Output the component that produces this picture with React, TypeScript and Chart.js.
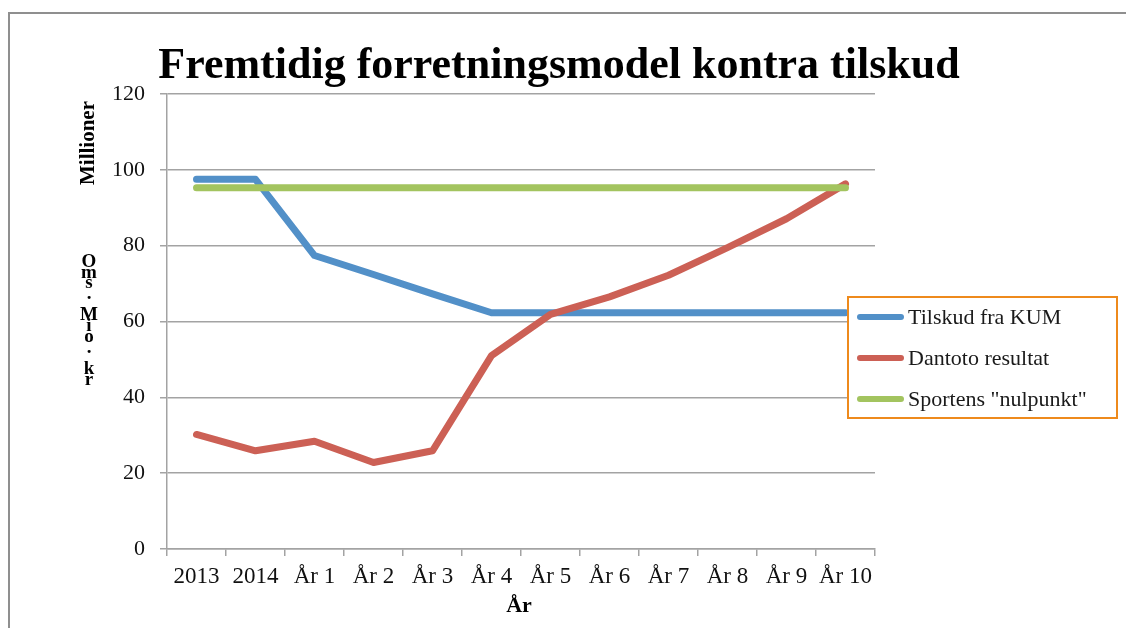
import React, { useEffect, useRef } from "react";
import { Chart, registerables } from "chart.js";

Chart.register(...registerables);

const categories = ["2013", "2014", "År 1", "År 2", "År 3", "År 4", "År 5", "År 6", "År 7", "År 8", "År 9", "År 10"];
const tilskudFraKum = [97.5, 97.5, 77.4, 72.4, 67.3, 62.3, 62.3, 62.3, 62.3, 62.3, 62.3, 62.3];
const dantotoResultat = [30.2, 25.9, 28.4, 22.8, 25.9, 51.0, 61.9, 66.5, 72.2, 79.5, 87.1, 96.3];
const sportensNulpunkt = [95.3, 95.3, 95.3, 95.3, 95.3, 95.3, 95.3, 95.3, 95.3, 95.3, 95.3, 95.3];
const seriesNames = ["Tilskud fra KUM", "Dantoto resultat", 'Sportens "nulpunkt"'];
const seriesColors = ["#5290c8", "#cc6055", "#a3c45f"];
const titleText = "Fremtidig forretningsmodel kontra tilskud";
const xTitle = "År";
const yUnitLabel = "Millioner";
const yTitle = "Oms. Mio. kr";

const SERIF = "'Liberation Serif', 'Times New Roman', serif";
const GRID = "#a3a3a3";

const decorPlugin = {
  id: "decor",
  afterDraw(chart: any) {
    const ctx = chart.ctx;
    ctx.save();
    // outer frame
    ctx.strokeStyle = "#8f8f8f";
    ctx.lineWidth = 2;
    ctx.strokeRect(9, 13, 1300, 800);

    // title
    ctx.fillStyle = "#000";
    ctx.font = `bold 44px ${SERIF}`;
    ctx.textAlign = "center";
    ctx.textBaseline = "alphabetic";
    ctx.fillText(titleText, 559, 78);

    // x axis title
    ctx.font = `bold 22px ${SERIF}`;
    ctx.textBaseline = "middle";
    ctx.fillText(xTitle, 519, 606);

    // y unit label (rotated)
    ctx.save();
    ctx.translate(89, 143);
    ctx.rotate(-Math.PI / 2);
    ctx.font = `bold 21px ${SERIF}`;
    ctx.fillText(yUnitLabel, 0, 0);
    ctx.restore();

    // stacked y title
    ctx.font = `bold 19px ${SERIF}`;
    const chars = Array.from(yTitle);
    chars.forEach((c, i) => {
      if (c !== " ") ctx.fillText(c, 89, 262 + i * 10.7);
    });

    // legend
    const lx = 848, ly = 297, lw = 269, lh = 121;
    ctx.fillStyle = "#fff";
    ctx.fillRect(lx, ly, lw, lh);
    ctx.strokeStyle = "#ee8a1c";
    ctx.lineWidth = 2;
    ctx.strokeRect(lx, ly, lw, lh);
    const rows = [317, 358, 399];
    chart.data.datasets.forEach((ds: any, i: number) => {
      ctx.strokeStyle = ds.borderColor;
      ctx.lineWidth = 6;
      ctx.lineCap = "round";
      ctx.beginPath();
      ctx.moveTo(860, rows[i]);
      ctx.lineTo(901, rows[i]);
      ctx.stroke();
      ctx.fillStyle = "#1a1a1a";
      ctx.font = `22px ${SERIF}`;
      ctx.textAlign = "left";
      ctx.textBaseline = "middle";
      ctx.fillText(ds.label, 908, rows[i] + 1);
    });
    ctx.restore();
  },
};

export default function App() {
  const ref = useRef<HTMLCanvasElement>(null);
  useEffect(() => {
    if (!ref.current) return;
    const lineDs = (label: string, data: number[], color: string, order: number) => ({
      label,
      data,
      borderColor: color,
      backgroundColor: color,
      borderWidth: 7,
      pointRadius: 0,
      pointHoverRadius: 0,
      tension: 0,
      fill: false,
      borderCapStyle: "round" as const,
      borderJoinStyle: "round" as const,
      order,
    });
    const chart = new Chart(ref.current, {
      type: "line",
      data: {
        labels: categories,
        datasets: [
          lineDs(seriesNames[0], tilskudFraKum, seriesColors[0], 3),
          lineDs(seriesNames[1], dantotoResultat, seriesColors[1], 2),
          lineDs(seriesNames[2], sportensNulpunkt, seriesColors[2], 1),
        ],
      },
      options: {
        animation: false,
        responsive: false,
        devicePixelRatio: 1,
        layout: { padding: { top: 94, right: 251, left: 0, bottom: 0 } },
        plugins: {
          legend: { display: false },
          title: { display: false },
          tooltip: { enabled: false },
        },
        scales: {
          x: {
            type: "category",
            offset: true,
            grid: {
              offset: true,
              drawOnChartArea: false,
              drawTicks: true,
              tickLength: 7,
              color: GRID,
              lineWidth: 1.5,
            },
            border: { display: true, color: GRID, width: 1.5 },
            ticks: {
              color: "#111",
              font: { family: SERIF, size: 23 },
              padding: 7,
              maxRotation: 0,
              autoSkip: false,
            },
            afterFit(scale: any) {
              scale.height = 79;
            },
          },
          y: {
            min: 0,
            max: 120,
            grid: {
              color: GRID,
              lineWidth: 1.5,
              drawTicks: true,
              tickLength: 7,
            },
            border: { display: true, color: GRID, width: 1.5 },
            ticks: {
              stepSize: 20,
              color: "#111",
              font: { family: SERIF, size: 22 },
              padding: 15,
            },
            afterFit(scale: any) {
              scale.width = 167;
            },
          },
        },
      },
      plugins: [decorPlugin],
    });
    return () => chart.destroy();
  }, []);
  return (
    <div style={{ position: "fixed", left: 0, top: 0, width: 1126, height: 628, background: "#fff" }}>
      <canvas ref={ref} width={1126} height={628} style={{ display: "block" }} />
    </div>
  );
}
